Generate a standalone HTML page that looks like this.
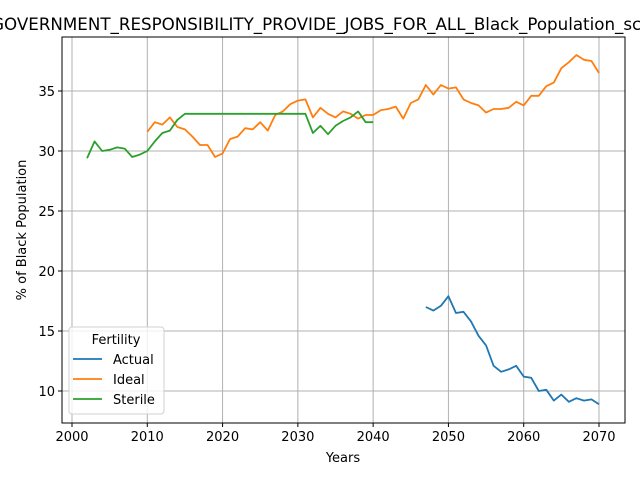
<!DOCTYPE html>
<html><head><meta charset="utf-8"><style>
body{margin:0;background:#fff;width:640px;height:480px;overflow:hidden}
text{font-family:"DejaVu Sans","Liberation Sans",sans-serif;fill:#000}
</style></head><body>
<svg id="chart" width="640" height="480" xmlns="http://www.w3.org/2000/svg"></svg>
<script>
const xTicks=[2000,2010,2020,2030,2040,2050,2060,2070];
const yTicks=[10,15,20,25,30,35];
const actualYears=[2047,2048,2049,2050,2051,2052,2053,2054,2055,2056,2057,2058,2059,2060,2061,2062,2063,2064,2065,2066,2067,2068,2069,2070];
const actualVals=[17.0,16.7,17.1,17.9,16.5,16.6,15.8,14.6,13.8,12.1,11.6,11.8,12.1,11.2,11.1,10.0,10.1,9.2,9.7,9.1,9.4,9.2,9.3,8.9];
const idealStart=2010;
const idealVals=[31.6,32.4,32.2,32.8,32.0,31.8,31.2,30.5,30.5,29.5,29.8,31.0,31.2,31.9,31.8,32.4,31.7,33.0,33.3,33.9,34.2,34.3,32.8,33.6,33.1,32.8,33.3,33.1,32.7,33.0,33.0,33.4,33.5,33.7,32.7,34.0,34.3,35.5,34.7,35.5,35.2,35.3,34.3,34.0,33.8,33.2,33.5,33.5,33.6,34.1,33.8,34.6,34.6,35.4,35.7,36.9,37.4,38.0,37.6,37.5,36.5];
const sterileStart=2002;
const sterileVals=[29.4,30.8,30.0,30.1,30.3,30.2,29.5,29.7,30.0,30.8,31.5,31.7,32.6,33.1,33.1,33.1,33.1,33.1,33.1,33.1,33.1,33.1,33.1,33.1,33.1,33.1,33.1,33.1,33.1,33.1,31.5,32.1,31.4,32.1,32.5,32.8,33.3,32.4,32.4];

const L=62,R=625,T=37,B=423;
const X=v=>72+(v-2000)*(527/70);
const Y=v=>391-(v-10)*12;
const svg=document.getElementById('chart');
const NS='http://www.w3.org/2000/svg';
function mk(tag,attrs,parent){const e=document.createElementNS(NS,tag);for(const k in attrs)e.setAttribute(k,attrs[k]);(parent||svg).appendChild(e);return e;}

xTicks.forEach(t=>{
  const g=mk('line',{x1:X(t),x2:X(t),y1:T,y2:B,stroke:'#b0b0b0','stroke-width':1});
  
  
  mk('line',{x1:X(t),x2:X(t),y1:B,y2:B+4,stroke:'#000'});
  const tx=mk('text',{x:X(t),y:B+18,'text-anchor':'middle','font-size':13});
  tx.textContent=t;
  
  
});
yTicks.forEach(t=>{
  const g=mk('line',{x1:L,x2:R,y1:Y(t),y2:Y(t),stroke:'#b0b0b0','stroke-width':1});
  
  
  mk('line',{x1:L-4,x2:L,y1:Y(t),y2:Y(t),stroke:'#000'});
  const tx=mk('text',{x:L-7,y:Y(t)+5,'text-anchor':'end','font-size':13});
  tx.textContent=t;
  
  
});
function series(xs,vs,color,name){
  const p=mk('polyline',{points:xs.map((x,i)=>X(x)+','+Y(vs[i])).join(' '),fill:'none',stroke:color,'stroke-width':1.8,'stroke-linejoin':'round'});
  
  
}
series(actualYears,actualVals,'#1f77b4','actual-line');
series(idealVals.map((_,i)=>idealStart+i),idealVals,'#ff7f0e','ideal-line');
series(sterileVals.map((_,i)=>sterileStart+i),sterileVals,'#2ca02c','sterile-line');

const frame=mk('rect',{x:L,y:T,width:R-L,height:B-T,fill:'none',stroke:'#000','stroke-width':1});



const title=mk('text',{x:334,y:30,'text-anchor':'middle','font-size':16.7});
title.textContent='GOVERNMENT_RESPONSIBILITY_PROVIDE_JOBS_FOR_ALL_Black_Population_scores';


const xl=mk('text',{x:343,y:462,'text-anchor':'middle','font-size':13});
xl.textContent='Years';


const yl=mk('text',{x:26,y:230,'text-anchor':'middle','font-size':13,transform:'rotate(-90 26 230)'});
yl.textContent='% of Black Population';



const lg=mk('g',{});


mk('rect',{x:69,y:327,width:95,height:87,rx:3,fill:'#fff','fill-opacity':0.8,stroke:'#d0d0d0'},lg);
const lt=mk('text',{x:116,y:344,'text-anchor':'middle','font-size':13},lg);
lt.textContent='Fertility';
[['Actual','#1f77b4'],['Ideal','#ff7f0e'],['Sterile','#2ca02c']].forEach((d,i)=>{
  const y=359+i*20;
  mk('line',{x1:73,x2:102,y1:y,y2:y,stroke:d[1],'stroke-width':1.8},lg);
  const t=mk('text',{x:113,y:y+5,'font-size':13},lg);
  t.textContent=d[0];
  
  
});
</script>
</body></html>
